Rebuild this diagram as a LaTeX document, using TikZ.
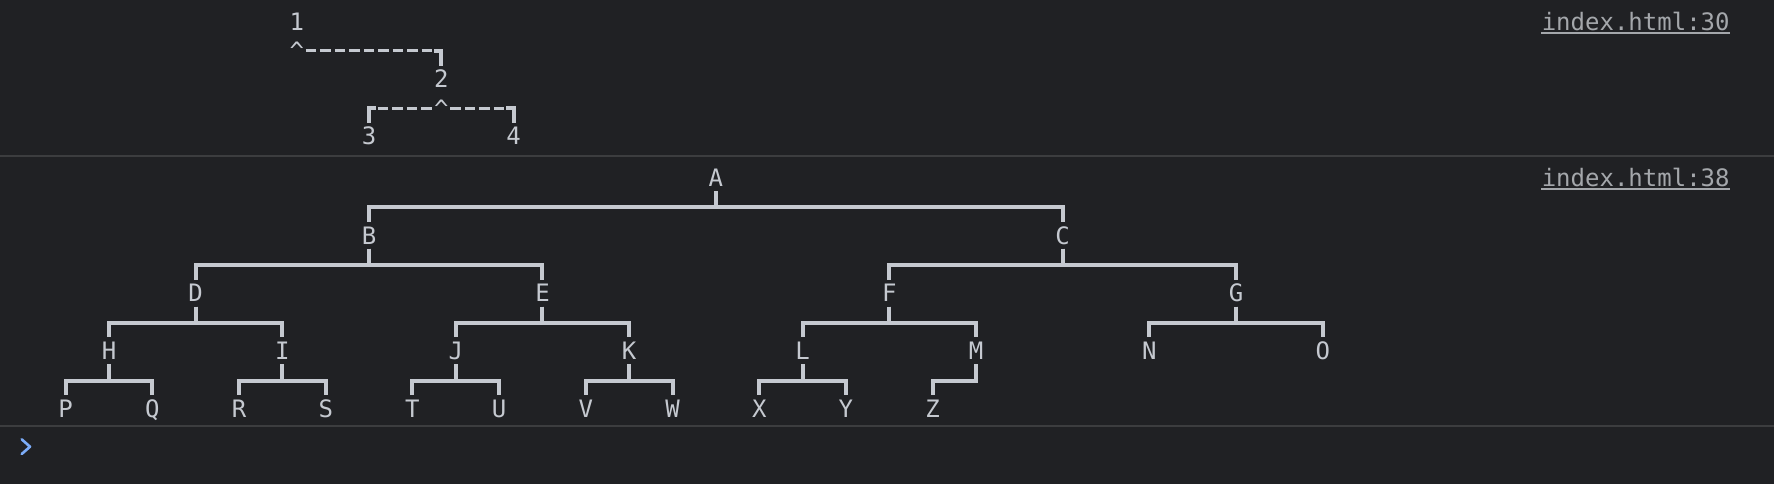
\documentclass[tikz,border=0pt]{standalone}
\usepackage{fontspec}
\newfontfamily\monof{DejaVu Sans Mono}
\usetikzlibrary{calc}
\definecolor{bg}{HTML}{202124}
\definecolor{fg}{HTML}{C5C9D0}
\definecolor{sepc}{HTML}{3C3D3F}
\definecolor{lnk}{HTML}{A4A7AB}
\definecolor{prm}{HTML}{7CACF8}
\tikzset{
  lbl/.style={text=fg, font=\monof\fontsize{12}{14}\selectfont, inner sep=0pt,
    text height=8.75pt, text depth=0pt, minimum height=13pt, anchor=center},
  caretnode/.style={text=fg, font=\monof\fontsize{12}{14}\selectfont, inner sep=0pt, anchor=base},
  br/.style={draw=fg, line width=2pt, line join=miter, line cap=butt},
  dashln/.style={draw=fg, line width=1.6pt, line cap=butt, dash pattern=on 5.25pt off 1.975pt},
  linknode/.style={text=lnk, font=\monof\fontsize{12}{14}\selectfont, inner sep=0pt, anchor=base east},
  linkline/.style={draw=lnk, line width=1pt},
  sepline/.style={draw=sepc, line width=1pt},
  promptmark/.style={draw=prm, line width=1.3pt, line cap=round, line join=round}
}
\begin{document}
\begin{tikzpicture}[x=0.5pt,y=-0.5pt]
\useasboundingbox (0,0) rectangle (1774,484);
\fill[bg] (0,0) rectangle (1774,484);
% separators
\draw[sepline] (0,156) -- (1774,156);
\draw[sepline] (0,426) -- (1774,426);
% links
\node[linknode] (l1) at (1730,30.25) {index.html:30};
\node[linknode] (l2) at (1730,186.35) {index.html:38};
\draw[linkline] ([yshift=-1.2pt]l1.base west) -- ([yshift=-1.2pt]l1.base east);
\draw[linkline] ([yshift=-1.2pt]l2.base west) -- ([yshift=-1.2pt]l2.base east);
% prompt
\draw[promptmark] (21.7,439.3) -- (30,446.7) -- (21.7,454);

% ---------- top tree ----------
\node[lbl] (n1) at ({14.45*20+7.825},21.5) {1};
\node[lbl] (n2) at ({14.45*30+7.825},79.2) {2};
\node[lbl] (n3) at ({14.45*25+7.825},136) {3};
\node[lbl] (n4) at ({14.45*35+7.825},136) {4};
\node[caretnode] (c1) at ({14.45*20+7.825},59.4) {\char`\^};
\node[caretnode] (c2) at ({14.45*30+7.825},117) {\char`\^};
\coordinate (k1) at ({14.45*30+7.825},50.8);
\coordinate (k2) at ({14.45*25+7.825},108.3);
\coordinate (k3) at ({14.45*35+7.825},108.3);
% 1 -> 2
\draw[dashln] ([xshift=0.75pt]c1.east |- k1) -- ([xshift=-3.6125pt]k1);
\draw[br] ([xshift=-3.6125pt]k1) -- (k1) -- (n2.north);
% 2 -> 3, 2 -> 4
\draw[br] (n3.north) -- (k2) -- ([xshift=3.6125pt]k2);
\draw[dashln] ([xshift=4.3625pt]k2) -- (c2.west |- k2);
\draw[dashln] ([xshift=0.75pt]c2.east |- k3) -- ([xshift=-3.6125pt]k3);
\draw[br] ([xshift=-3.6125pt]k3) -- (k3) -- (n4.north);

% ---------- bottom tree ----------
\foreach \n/\c/\r in {A/49/177.6,
  B/25/235.3, C/73/235.3,
  D/13/293.1, E/37/293.1, F/61/293.1, G/85/293.1,
  H/7/350.8, I/19/350.8, J/31/350.8, K/43/350.8, L/55/350.8, M/67/350.8, N/79/350.8, O/91/350.8,
  P/4/408.6, Q/10/408.6, R/16/408.6, S/22/408.6, T/28/408.6, U/34/408.6, V/40/408.6, W/46/408.6,
  X/52/408.6, Y/58/408.6, Z/64/408.6}
  \node[lbl] (\n) at ({14.45*\c+7.825},\r) {\n};

\foreach \p/\q in {A/B, A/C, B/D, B/E, C/F, C/G, D/H, D/I, E/J, E/K, F/L, F/M, G/N, G/O,
  H/P, H/Q, I/R, I/S, J/T, J/U, K/V, K/W, L/X, L/Y, M/Z}
  \draw[br] (\p.south) |- ($(\p.south)!0.5!(\q.north)+(0,1)$) -| (\q.north);
\end{tikzpicture}
\end{document}
